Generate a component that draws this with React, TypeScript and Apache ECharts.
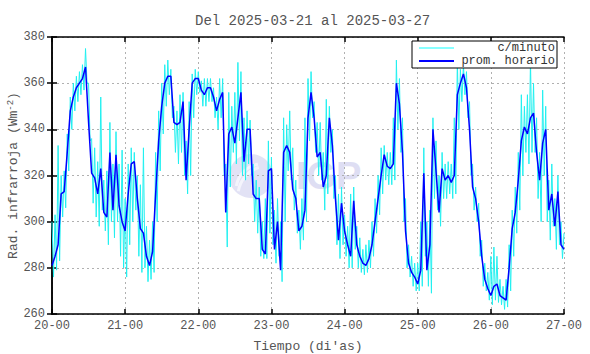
import React, { useEffect, useRef } from "react";
import * as echarts from "echarts";

const TITLE = "Del 2025-03-21 al 2025-03-27";
const DAY_START = 20;
const X_MAX_HOURS = 168;
const Y_MIN = 260;
const Y_MAX = 380;

// Hourly average (prom. horario), one value per hour from 20-00 to 27-00
const hourly = [
  281, 285, 290, 312, 313, 330, 348, 354, 358, 360, 362, 367, 343, 321, 319, 312, 323, 304, 302, 330, 305, 329, 307, 300, 296,
  312, 325, 326, 310, 297, 295, 285, 281, 287, 312, 335, 350, 360, 363, 363, 343, 342, 343, 352, 318, 340, 360, 362,
  362, 357, 355, 358, 358, 354, 348, 353, 356, 304, 338, 341, 334, 345, 356, 326, 340, 340, 312, 310, 310, 288, 286, 322,
  323, 288, 300, 279, 330, 333, 330, 314, 310, 296, 298, 305, 345, 356, 345, 328, 330, 315, 320, 345, 333, 310, 292, 308,
  296, 290, 285, 309, 290, 285, 282, 281, 284, 290, 300, 310, 320, 329, 324, 323, 325, 360, 351, 330, 296, 282, 278, 276,
  273, 279, 321, 279, 290, 340, 322, 304, 323, 318, 320, 317, 320, 355, 360, 364, 358, 340, 315, 310, 300, 285, 275, 271,
  268, 272, 273, 268, 267, 266, 280, 297, 304, 318, 335, 341, 338, 345, 347, 330, 318, 334, 340, 305, 312, 298, 313, 290, 288,
];

// Per-minute data (c/minuto): highest and lowest value seen in each hour
const minuteHigh = [
  300, 303, 333, 320, 322, 338, 354, 360, 363, 365, 368, 375, 360, 336, 332, 326, 354, 318, 322, 343, 325, 339, 325, 331, 310,
  325, 332, 330, 320, 316, 332, 298, 292, 300, 330, 348, 360, 368, 370, 366, 350, 348, 355, 356, 335, 352, 364, 366,
  365, 361, 362, 362, 362, 358, 354, 362, 362, 325, 356, 350, 356, 369, 365, 345, 348, 344, 325, 318, 315, 300, 310, 335,
  328, 305, 310, 300, 345, 342, 348, 332, 318, 305, 310, 345, 362, 365, 352, 343, 343, 330, 353, 350, 340, 320, 312, 315,
  303, 298, 312, 315, 298, 293, 288, 290, 292, 300, 310, 320, 332, 333, 330, 330, 345, 370, 362, 345, 310, 290, 285, 282,
  282, 300, 332, 300, 305, 345, 335, 320, 330, 325, 326, 325, 345, 370, 366, 368, 365, 352, 325, 315, 308, 292, 282, 278,
  285, 289, 285, 275, 272, 275, 290, 305, 315, 330, 355, 350, 355, 370, 360, 345, 330, 357, 350, 318, 325, 310, 320, 300, 295,
];
const minuteLow = [
  276, 279, 283, 302, 306, 322, 340, 348, 352, 355, 357, 360, 335, 308, 302, 298, 305, 296, 290, 300, 293, 300, 285, 280, 276,
  290, 300, 305, 285, 278, 280, 274, 275, 278, 300, 322, 338, 350, 355, 345, 330, 325, 330, 320, 312, 320, 345, 355,
  356, 350, 350, 352, 352, 345, 340, 345, 320, 289, 315, 330, 325, 335, 320, 318, 325, 320, 300, 295, 285, 284, 284, 295,
  290, 282, 285, 274, 300, 322, 318, 305, 295, 288, 292, 300, 335, 345, 330, 320, 318, 305, 312, 330, 310, 290, 284, 290,
  285, 280, 280, 288, 280, 278, 277, 278, 280, 285, 295, 303, 312, 318, 316, 316, 318, 340, 330, 300, 280, 276, 272, 270,
  270, 272, 285, 272, 269, 310, 305, 298, 310, 310, 312, 310, 312, 340, 352, 355, 345, 320, 305, 300, 285, 272, 270, 266,
  264, 266, 265, 264, 262, 263, 270, 285, 295, 305, 320, 330, 325, 330, 330, 310, 300, 320, 300, 292, 298, 288, 290, 284, 284,
];

const FONT = "'Liberation Mono', 'DejaVu Sans Mono', monospace";
const TEXT_COLOR = "#555";

export default function App() {
  const ref = useRef<HTMLDivElement>(null);

  useEffect(() => {
    if (!ref.current) return;
    const chart = echarts.init(ref.current, null, { renderer: "svg" });

    const blueData = hourly.map((v, i) => [i, v]);
    const cyanData: number[][] = [];
    minuteHigh.forEach((v, i) => {
      cyanData.push([i, v]);
      if (i + 0.5 <= X_MAX_HOURS) cyanData.push([i + 0.5, minuteLow[i]]);
    });

    const xCommon = {
      type: "value" as const,
      min: 0,
      max: X_MAX_HOURS,
      interval: 24,
    };
    const yCommon = {
      type: "value" as const,
      min: Y_MIN,
      max: Y_MAX,
      interval: 20,
    };
    const axisLine = { show: true, lineStyle: { color: "#000", width: 1.5 } };
    const tick = { show: true, inside: true, length: 5, lineStyle: { color: "#000", width: 1.5 } };

    chart.setOption({
      animation: false,
      backgroundColor: "#fff",
      title: {
        text: TITLE,
        left: 190,
        top: 9,
        textStyle: { fontFamily: FONT, fontSize: 14, fontWeight: "normal", color: TEXT_COLOR },
      },
      legend: {
        orient: "vertical",
        right: 33,
        top: 41,
        padding: [1, 2, 1, 7],
        itemGap: 1,
        itemWidth: 35,
        itemHeight: 2,
        backgroundColor: "#fff",
        borderColor: "#000",
        borderWidth: 1,
        borderRadius: 0,
        formatter: (name: string) => `{a|${name}}`,
        textStyle: {
          fontFamily: FONT,
          fontSize: 12,
          color: "#333",
          rich: { a: { width: 96, align: "right", fontFamily: FONT, fontSize: 12, color: "#333" } },
        },
        data: [
          { name: "c/minuto", icon: "rect", itemStyle: { color: "#88ffff" } },
          { name: "prom. horario", icon: "rect", itemStyle: { color: "#0000ff" } },
        ],
      },
      grid: { left: 52, right: 26, top: 37, bottom: 40, containLabel: false, outerBoundsMode: "none" },
      xAxis: [
        {
          ...xCommon,
          position: "bottom",
          name: "Tiempo (di'as)",
          nameLocation: "middle",
          nameGap: 26,
          nameMoveOverlap: false,
          nameTextStyle: { fontFamily: FONT, fontSize: 13, color: TEXT_COLOR },
          axisLine,
          axisTick: tick,
          axisLabel: {
            fontFamily: FONT,
            fontSize: 12,
            color: TEXT_COLOR,
            margin: 6,
            formatter: (v: number) => `${DAY_START + v / 24}-00`,
          },
          splitLine: { show: true, lineStyle: { color: "#b0b0b0", type: [2, 3], width: 1 } },
        },
        {
          ...xCommon,
          position: "top",
          axisLine,
          axisTick: tick,
          axisLabel: { show: false },
          splitLine: { show: false },
        },
      ],
      yAxis: [
        {
          ...yCommon,
          position: "left",
          name: "Rad. infrarroja (Wm{sup|-2})",
          nameLocation: "middle",
          nameGap: 32,
          nameMoveOverlap: false,
          nameTextStyle: {
            fontFamily: FONT,
            fontSize: 13,
            color: TEXT_COLOR,
            rich: { sup: { fontFamily: FONT, fontSize: 9, color: TEXT_COLOR, verticalAlign: "top", lineHeight: 14 } },
          },
          axisLine,
          axisTick: tick,
          axisLabel: { fontFamily: FONT, fontSize: 12, color: TEXT_COLOR, margin: 7 },
          splitLine: { show: true, lineStyle: { color: "#b0b0b0", type: [2, 3], width: 1 } },
        },
        {
          ...yCommon,
          position: "right",
          axisLine,
          axisTick: tick,
          axisLabel: { show: false },
          splitLine: { show: false },
        },
      ],
      graphic: [
        {
          type: "group",
          z: 0,
          silent: true,
          children: [
            { type: "circle", shape: { cx: 251, cy: 176, r: 22 }, style: { fill: "#e2e2f5" } },
            { type: "arc", shape: { cx: 262, cy: 190, r: 26, startAngle: Math.PI * 1.05, endAngle: Math.PI * 1.45 }, style: { stroke: "#f4f4fc", lineWidth: 3, fill: "none" } },
            { type: "arc", shape: { cx: 268, cy: 196, r: 30, startAngle: Math.PI * 1.05, endAngle: Math.PI * 1.4 }, style: { stroke: "#f4f4fc", lineWidth: 3, fill: "none" } },
            {
              type: "text",
              x: 296,
              y: 176,
              style: {
                text: "IGP",
                fontFamily: "'Liberation Sans', Arial, sans-serif",
                fontWeight: "bold",
                fontSize: 38,
                fill: "#dedef3",
                textVerticalAlign: "middle",
                verticalAlign: "middle",
              },
            },
          ],
        },
      ],
      series: [
        {
          name: "c/minuto",
          type: "line",
          xAxisIndex: 0,
          yAxisIndex: 0,
          data: cyanData,
          showSymbol: false,
          symbol: "none",
          lineStyle: { color: "#22f0f0", width: 1 },
          itemStyle: { color: "#88ffff" },
          z: 3,
        },
        {
          name: "prom. horario",
          type: "line",
          xAxisIndex: 0,
          yAxisIndex: 0,
          data: blueData,
          showSymbol: false,
          symbol: "none",
          lineStyle: { color: "#0000ff", width: 1.5 },
          itemStyle: { color: "#0000ff" },
          z: 4,
        },
      ],
    });

    return () => chart.dispose();
  }, []);

  return (
    <div
      ref={ref}
      style={{ position: "fixed", left: 0, top: 0, width: 590, height: 354, background: "#fff" }}
    />
  );
}
